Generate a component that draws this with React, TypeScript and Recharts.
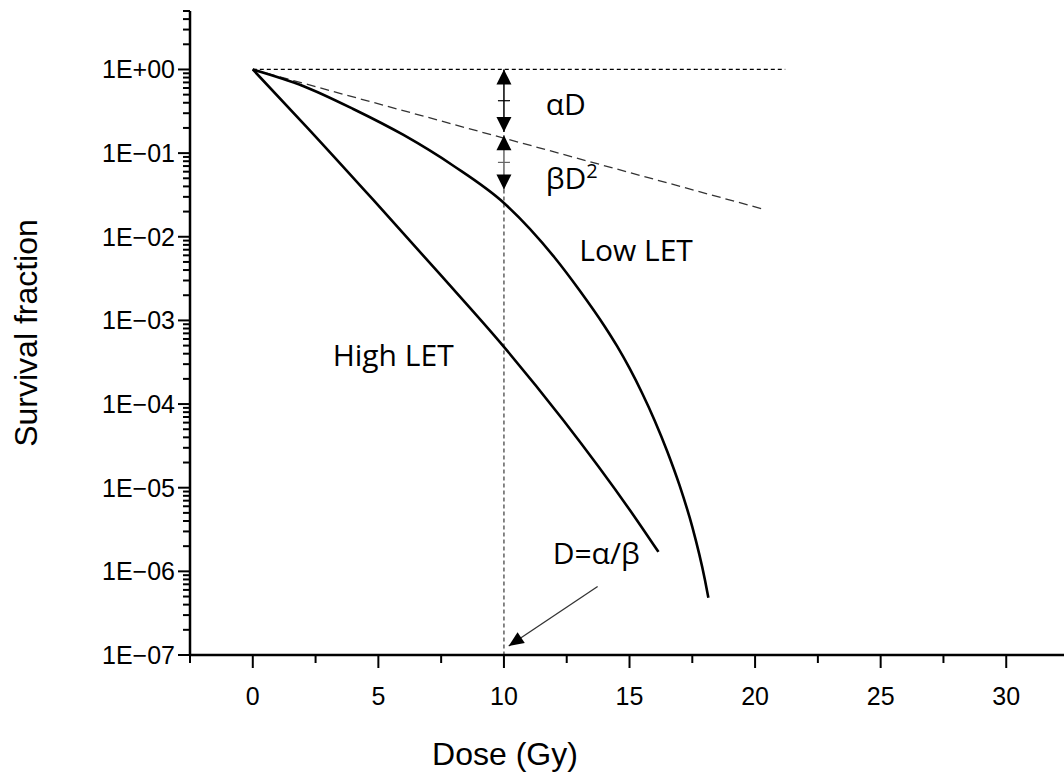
import React from 'react';
import { LineChart, Line, XAxis, YAxis, ReferenceLine, ReferenceDot, Label } from 'recharts';

// Survival curves (dose in Gy, surviving fraction)
const lowLetDose = [0, 2, 4, 6, 8, 10, 12, 13, 14, 14.5, 15, 15.5, 16, 16.5, 17, 17.5, 18, 18.14];
const lowLetSurvival = [
  1, 0.635, 0.337, 0.1648, 0.0702, 0.02536, 5.73e-3, 2.31e-3, 8.58e-4, 4.95e-4, 2.683e-4, 1.357e-4, 6.37e-5, 2.73e-5,
  1.05e-5, 3.4e-6, 8.0e-7, 4.84e-7,
];

const highLetDose = [0, 2.14, 4.79, 7.45, 10, 12.35, 15.15, 16.15];
const highLetSurvival = [1, 0.2065, 0.02776, 3.57e-3, 4.83e-4, 6.49e-5, 4.72e-6, 1.71e-6];

// Axis ticks
const xMajorTicks = [0, 5, 10, 15, 20, 25, 30];
const xMinorTicks = [-2.5, 2.5, 7.5, 12.5, 17.5, 22.5, 27.5];
const xTickLabels = ['0', '5', '10', '15', '20', '25', '30'];

const yMajorTicks = [1e-7, 1e-6, 1e-5, 1e-4, 1e-3, 1e-2, 1e-1, 1];
const yTickLabels = ['1E\u221207', '1E\u221206', '1E\u221205', '1E\u221204', '1E\u221203', '1E\u221202', '1E\u221201', '1E+00'];
const yMinorMantissas = [2, 3, 4, 5, 6, 7, 8, 9];
const yMinorTicksAbove = [2, 3, 4, 5];

// Guide lines and arrows (dose, surviving fraction)
const survivalRef = 1;
const survivalRefEnd = 21.2;
const alphaLineEnd = { dose: 20.3, sf: 0.0215 };
const alphaBetaDose = 10;
const alphaArrow = { top: 1, bottom: 0.179 };
const betaArrow = { top: 0.163, bottom: 0.0368 };
const guideBottom = 1e-7;
const pointerFrom = { dose: 13.73, sf: 6.6e-7 };
const pointerTo = { dose: 10.19, sf: 1.28e-7 };

// Annotation anchors (left edge / baseline)
const notes = [
  { dose: 11.66, sf: 0.286, text: 'αD' },
  { dose: 13.0, sf: 5.14e-3, text: 'Low LET' },
  { dose: 3.18, sf: 2.85e-4, text: 'High LET' },
  { dose: 11.94, sf: 1.22e-6, text: 'D=α/β' },
];
const betaNote = { dose: 11.66, sf: 0.0375 };

const lowLetData = lowLetDose.map((d, i) => ({ dose: d, sf: lowLetSurvival[i] }));
const highLetData = highLetDose.map((d, i) => ({ dose: d, sf: highLetSurvival[i] }));

const yMinorTicks = [
  ...yMajorTicks.slice(0, -1).flatMap((m) => yMinorMantissas.map((k) => m * k)),
  ...yMinorTicksAbove,
];
const yTicks = [...yMajorTicks, ...yMinorTicks].sort((a, b) => a - b);
const xTicks = [...xMajorTicks, ...xMinorTicks].sort((a, b) => a - b);

const TICK_FONT = '"Liberation Sans", Arial, sans-serif';
const NOTE_FONT = '"Open Sans", "Noto Sans", sans-serif';

const isMajorY = (v: number) => yMajorTicks.findIndex((m) => Math.abs(m - v) / m < 1e-9);

const YTick = (props: any) => {
  const { x, y, payload } = props;
  const idx = isMajorY(payload.value);
  const major = idx >= 0;
  return (
    <g>
      <line x1={x - (major ? 12 : 7)} x2={x} y1={y} y2={y} stroke="#000" strokeWidth={2} />
      {major && (
        <text x={x - 15} y={y} dy="0.36em" textAnchor="end" fontFamily={TICK_FONT} fontSize={25} fill="#000">
          {yTickLabels[idx]}
        </text>
      )}
    </g>
  );
};

const XTick = (props: any) => {
  const { x, y, payload } = props;
  const idx = xMajorTicks.indexOf(payload.value);
  const major = idx >= 0;
  return (
    <g>
      <line x1={x} x2={x} y1={y} y2={y + (major ? 13 : 8)} stroke="#000" strokeWidth={2} />
      {major && (
        <text x={x} y={y + 50} textAnchor="middle" fontFamily={TICK_FONT} fontSize={25} fill="#000">
          {xTickLabels[idx]}
        </text>
      )}
    </g>
  );
};

function headPoints(tx: number, ty: number, fx: number, fy: number, len: number, halfW: number) {
  const dx = tx - fx;
  const dy = ty - fy;
  const d = Math.hypot(dx, dy) || 1;
  const ux = dx / d;
  const uy = dy / d;
  const bx = tx - ux * len;
  const by = ty - uy * len;
  const px = -uy * halfW;
  const py = ux * halfW;
  return `${tx},${ty} ${bx + px},${by + py} ${bx - px},${by - py}`;
}

// Two-headed arrow with a small crossbar at its middle
const doubleArrow = (color: string) => (props: any) => {
  const { x1, y1, x2, y2 } = props;
  const mx = (x1 + x2) / 2;
  const my = (y1 + y2) / 2;
  return (
    <g>
      <line x1={x1} y1={y1} x2={x2} y2={y2} stroke={color} strokeWidth={1.5} />
      <line x1={mx - 6} y1={my} x2={mx + 6} y2={my} stroke={color} strokeWidth={1.2} />
      <polygon points={headPoints(x1, y1, x2, y2, 15, 7.5)} fill="#000" />
      <polygon points={headPoints(x2, y2, x1, y1, 15, 7.5)} fill="#000" />
    </g>
  );
};

const pointerArrow = (props: any) => {
  const { x1, y1, x2, y2 } = props;
  return (
    <g>
      <line x1={x1} y1={y1} x2={x2} y2={y2} stroke="#333" strokeWidth={1.3} />
      <polygon points={headPoints(x2, y2, x1, y1, 15, 6.5)} fill="#000" />
    </g>
  );
};

const noteShape = (text: string) => (props: any) => (
  <text x={props.cx} y={props.cy} fontFamily={NOTE_FONT} fontSize={30} fill="#000">
    {text}
  </text>
);

const betaShape = (props: any) => (
  <text x={props.cx} y={props.cy} fontFamily={NOTE_FONT} fontSize={30} fill="#000">
    βD
    <tspan dy={-11} fontSize={20}>
      2
    </tspan>
  </text>
);

export default function App() {
  return (
    <div style={{ position: 'absolute', left: 0, top: 0, background: '#fff' }}>
      <LineChart width={1064} height={777} margin={{ top: 11, right: 0, bottom: 0, left: 0 }}>
        <XAxis
          type="number"
          dataKey="dose"
          domain={[-2.5, 32.3]}
          allowDataOverflow
          ticks={xTicks}
          interval={0}
          height={122}
          tickSize={0}
          tickMargin={0}
          tickLine={false}
          tick={(p: any) => <XTick {...p} />}
          axisLine={{ stroke: '#000', strokeWidth: 2.5 }}
        >
          <Label
            content={(p: any) => (
              <text
                x={p.viewBox.x + 315}
                y={p.viewBox.y + 110}
                textAnchor="middle"
                fontFamily={TICK_FONT}
                fontSize={32}
                fill="#000"
              >
                Dose (Gy)
              </text>
            )}
          />
        </XAxis>
        <YAxis
          type="number"
          scale="log"
          domain={[1e-7, 5]}
          allowDataOverflow
          ticks={yTicks}
          interval={0}
          width={190}
          tickSize={0}
          tickMargin={0}
          tickLine={false}
          tick={(p: any) => <YTick {...p} />}
          axisLine={{ stroke: '#000', strokeWidth: 2.5 }}
        >
          <Label
            content={(p: any) => {
              const cx = p.viewBox.x + 37;
              const cy = p.viewBox.y + p.viewBox.height / 2;
              return (
                <text
                  x={cx}
                  y={cy}
                  transform={`rotate(-90 ${cx} ${cy})`}
                  textAnchor="middle"
                  fontFamily={TICK_FONT}
                  fontSize={32}
                  fill="#000"
                >
                  Survival fraction
                </text>
              );
            }}
          />
        </YAxis>

        <ReferenceLine
          segment={[{ x: 0, y: survivalRef }, { x: survivalRefEnd, y: survivalRef }]}
          stroke="#000"
          strokeWidth={1.2}
          strokeDasharray="4 3"
          ifOverflow="visible"
        />
        <ReferenceLine
          segment={[{ x: 0, y: survivalRef }, { x: alphaLineEnd.dose, y: alphaLineEnd.sf }]}
          stroke="#333"
          strokeWidth={1.3}
          strokeDasharray="9 5"
          ifOverflow="visible"
        />
        <ReferenceLine
          segment={[{ x: alphaBetaDose, y: betaArrow.bottom }, { x: alphaBetaDose, y: guideBottom }]}
          stroke="#555"
          strokeWidth={1.4}
          strokeDasharray="4 3"
          ifOverflow="visible"
        />
        <ReferenceLine
          segment={[{ x: alphaBetaDose, y: alphaArrow.top }, { x: alphaBetaDose, y: alphaArrow.bottom }]}
          shape={doubleArrow('#000')}
          ifOverflow="visible"
        />
        <ReferenceLine
          segment={[{ x: alphaBetaDose, y: betaArrow.top }, { x: alphaBetaDose, y: betaArrow.bottom }]}
          shape={doubleArrow('#666')}
          ifOverflow="visible"
        />
        <ReferenceLine
          segment={[{ x: pointerFrom.dose, y: pointerFrom.sf }, { x: pointerTo.dose, y: pointerTo.sf }]}
          shape={pointerArrow}
          ifOverflow="visible"
        />

        <Line
          data={lowLetData}
          dataKey="sf"
          type="monotone"
          stroke="#000"
          strokeWidth={2.6}
          dot={false}
          isAnimationActive={false}
        />
        <Line
          data={highLetData}
          dataKey="sf"
          type="monotone"
          stroke="#000"
          strokeWidth={2.6}
          dot={false}
          isAnimationActive={false}
        />

        {notes.map((n) => (
          <ReferenceDot key={n.text} x={n.dose} y={n.sf} ifOverflow="visible" shape={noteShape(n.text)} />
        ))}
        <ReferenceDot x={betaNote.dose} y={betaNote.sf} ifOverflow="visible" shape={betaShape} />
      </LineChart>
    </div>
  );
}
